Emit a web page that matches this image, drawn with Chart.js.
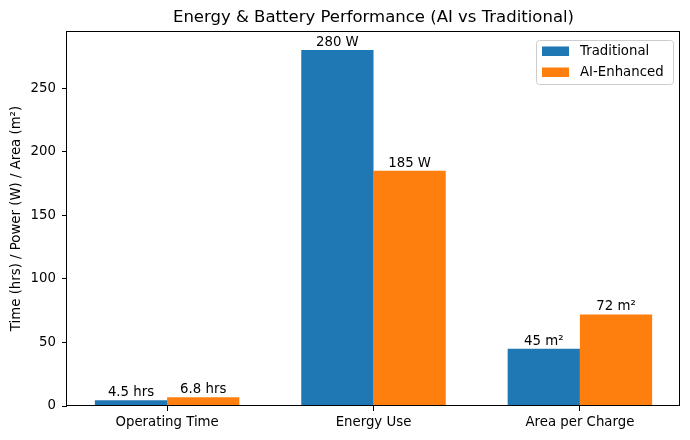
<!DOCTYPE html>
<html><head><meta charset="utf-8">
<script src="https://cdn.jsdelivr.net/npm/chart.js@4/dist/chart.umd.min.js"></script>
<style>html,body{margin:0;padding:0;background:#fff}#wrap{width:690px;height:440px}</style>
</head><body><div id="wrap"><canvas id="c" width="690" height="440"></canvas></div>
<script>
const categories = ["Operating Time", "Energy Use", "Area per Charge"];
const units = ["hrs", "W", "m²"];
const traditional = [4.5, 280, 45];
const aiEnhanced = [6.8, 185, 72];
const yTicks = [0, 50, 100, 150, 200, 250];
const seriesNames = ["Traditional", "AI-Enhanced"];
const colors = ["#1f77b4", "#ff7f0e"];
const FONT = "DejaVu Sans";

const L = 67, R = 680, T = 31, B = 406, W = 690, H = 440;

const labelsPlugin = {
  id: 'extras',
  afterDatasetsDraw(chart) {
    const ctx = chart.ctx;
    const a = chart.chartArea;
    ctx.save();
    ctx.strokeStyle = '#000'; ctx.lineWidth = 1;
    ctx.strokeRect(Math.round(a.left) - 0.5, Math.round(a.top) + 0.5, Math.round(a.right - a.left), Math.round(a.bottom - a.top) - 1);
    ctx.fillStyle = '#000';
    ctx.font = '13.3px "' + FONT + '"';
    ctx.textAlign = 'center'; ctx.textBaseline = 'bottom';
    chart.data.datasets.forEach((ds, di) => {
      const meta = chart.getDatasetMeta(di);
      meta.data.forEach((bar, i) => {
        const v = ds.data[i].y;
        ctx.fillText(v + ' ' + units[i], bar.x, bar.y - 1);
      });
    });
    ctx.font = '16.5px "' + FONT + '"';
    ctx.textBaseline = 'middle';
    ctx.fillText("Energy & Battery Performance (AI vs Traditional)", (a.left + a.right) / 2, 18);
    const lx = 536, ly = 40, lw = 137, lh = 44;
    ctx.beginPath();
    if (ctx.roundRect) ctx.roundRect(lx + 0.5, ly + 0.5, lw, lh, 3); else ctx.rect(lx + 0.5, ly + 0.5, lw, lh);
    ctx.fillStyle = 'rgba(255,255,255,0.8)'; ctx.fill();
    ctx.strokeStyle = '#cccccc'; ctx.lineWidth = 1; ctx.stroke();
    ctx.font = '13.3px "' + FONT + '"';
    ctx.textAlign = 'left'; ctx.textBaseline = 'middle';
    seriesNames.forEach((n, k) => {
      const cy = 51 + k * 21;
      ctx.fillStyle = colors[k];
      ctx.fillRect(542, cy - 4.5, 27, 9.5);
      ctx.fillStyle = '#000';
      ctx.fillText(n, 580, cy + 0.5);
    });
    ctx.restore();
  }
};

new Chart(document.getElementById('c'), {
  type: 'bar',
  data: {
    datasets: [
      { label: seriesNames[0], data: traditional.map((v, i) => ({x: i, y: v})), backgroundColor: colors[0], borderWidth: 0, categoryPercentage: 0.7, barPercentage: 1.0 },
      { label: seriesNames[1], data: aiEnhanced.map((v, i) => ({x: i, y: v})), backgroundColor: colors[1], borderWidth: 0, categoryPercentage: 0.7, barPercentage: 1.0 }
    ]
  },
  plugins: [labelsPlugin],
  options: {
    responsive: false,
    animation: false,
    devicePixelRatio: 1,
    layout: { padding: { left: 0, right: W - R, top: T, bottom: 0 } },
    plugins: { legend: { display: false }, title: { display: false }, tooltip: { enabled: false } },
    scales: {
      x: {
        type: 'linear',
        min: -0.485, max: 2.485,
        offset: false,
        afterBuildTicks(scale) { scale.ticks = categories.map((c, i) => ({ value: i })); },
        afterFit(scale) { scale.height = H - B; },
        ticks: { color: '#000', font: { family: FONT, size: 13.3 }, padding: 4, maxRotation: 0, autoSkip: false,
          callback: (v) => categories[v] },
        grid: { display: true, offset: false, drawOnChartArea: false, drawTicks: true, tickLength: 5, color: '#000' },
        border: { display: false }
      },
      y: {
        min: 0, max: 295,
        afterBuildTicks(scale) { scale.ticks = yTicks.map(v => ({ value: v })); },
        afterFit(scale) { scale.width = L; },
        ticks: { color: '#000', font: { family: FONT, size: 13.3 }, padding: 6 },
        grid: { display: true, offset: false, drawOnChartArea: false, drawTicks: true, tickLength: 5, color: '#000' },
        border: { display: false },
        title: { display: true, text: "Time (hrs) / Power (W) / Area (m²)", color: '#000', font: { family: FONT, size: 13.3 }, padding: { top: 9, bottom: 0 } }
      }
    }
  }
});
</script></body></html>
